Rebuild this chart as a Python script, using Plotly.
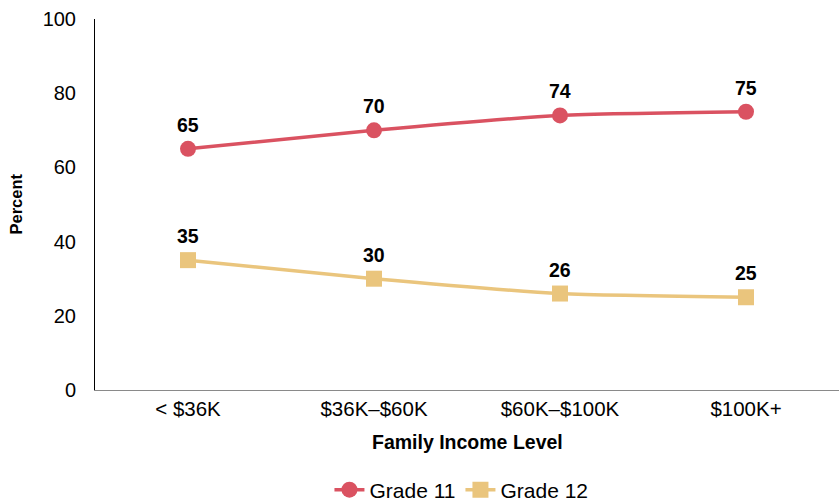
import plotly.graph_objects as go

categories = ["< $36K", "$36K–$60K", "$60K–$100K", "$100K+"]
grade11 = [65, 70, 74, 75]
grade12 = [35, 30, 26, 25]

red = "#da5261"
yellow = "#eac57d"
FONT = "Liberation Sans, Arial, Helvetica"

fig = go.Figure()
for name, vals, color, sym in [("Grade 11", grade11, red, "circle"),
                               ("Grade 12", grade12, yellow, "square")]:
    fig.add_trace(go.Scatter(
        x=categories, y=vals, name=name, mode="lines+markers",
        line=dict(color=color, width=3.5, shape="spline", smoothing=0.6),
        marker=dict(symbol=sym, size=16, color=color),
    ))
    for c, v in zip(categories, vals):
        fig.add_annotation(x=c, y=v, text=f"<b>{v}</b>", showarrow=False,
                           yshift=24, yanchor="middle",
                           font=dict(family=FONT, size=19.5, color="black"))

fig.add_annotation(xref="paper", yref="paper", x=0.5, y=0, yshift=-52,
                   yanchor="middle", showarrow=False,
                   text="<b>Family Income Level</b>",
                   font=dict(family=FONT, size=19.5, color="black"))
fig.add_annotation(xref="paper", yref="paper", x=0, y=0.5, xshift=-80,
                   xanchor="center", showarrow=False, textangle=-90,
                   text="<b>Percent</b>",
                   font=dict(family=FONT, size=16.5, color="black"))

fig.update_layout(
    width=839, height=501,
    margin=dict(l=95, r=0, t=19, b=111),
    paper_bgcolor="white", plot_bgcolor="white",
    font=dict(family=FONT, size=17, color="black"),
    showlegend=True,
    legend=dict(orientation="h", x=0.55, xanchor="center", xref="container",
                yref="container", y=0.022, yanchor="middle", font=dict(size=21)),
    xaxis=dict(
        range=[-0.5, 3.5], showgrid=False, showline=True, linecolor="#8a8a8a",
        linewidth=1, ticks="", automargin=False, tickfont=dict(size=20.5),
    ),
    yaxis=dict(
        range=[0, 100], dtick=20, showgrid=False, showline=True, linecolor="black",
        linewidth=1, ticks="", zeroline=False, ticklabelstandoff=14,
        automargin=False, tickfont=dict(size=20),
    ),
)
fig.write_html("out.html", config={"displayModeBar": False},
               post_script="document.body.style.margin='0';document.body.style.padding='0';")
